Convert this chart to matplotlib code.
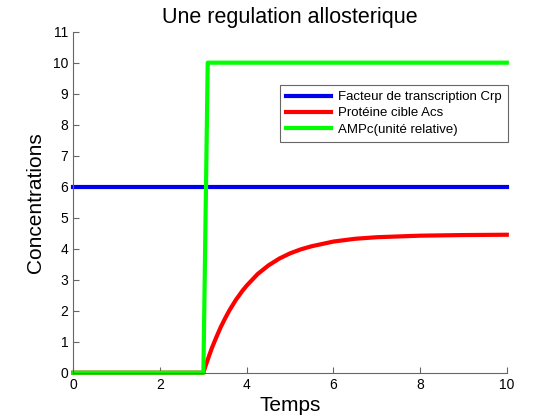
import matplotlib
matplotlib.use("Agg")
import matplotlib.pyplot as plt

plt.rcParams['font.family'] = ['Liberation Sans', 'DejaVu Sans']

# temps et concentrations
t_crp = [0, 10]
crp = [6, 6]

t_acs = [0, 3.0, 3.05, 3.1, 3.15, 3.2, 3.3, 3.4, 3.5, 3.6, 3.75, 3.9, 4.0, 4.25,
         4.5, 4.75, 5.0, 5.25, 5.5, 6.0, 6.5, 7.0, 8.0, 9.0, 10.0]
acs = [0, 0, 0.22, 0.42, 0.62, 0.81, 1.15, 1.47, 1.75, 2.01, 2.35, 2.64, 2.81, 3.18,
       3.46, 3.68, 3.85, 3.98, 4.08, 4.23, 4.32, 4.37, 4.42, 4.44, 4.45]

t_ampc = [0, 3.0, 3.1, 10]
ampc = [0, 0, 10, 10]

labels = ["Facteur de transcription Crp", "Protéine cible Acs", "AMPc(unité relative)"]

fig = plt.figure(figsize=(5.6, 4.2), dpi=100)
ax = fig.add_axes([0.131, 0.1126, 0.774, 0.812])

ax.plot(t_crp, crp, color="#0000ee", lw=3, clip_on=False)
ax.plot(t_acs, acs, color="#ff0000", lw=3, clip_on=False)
ax.plot(t_ampc, ampc, color="#00ff00", lw=3, clip_on=False)

ax.set_xlim(0, 10)
ax.set_ylim(0, 11)
ax.set_xticks(range(0, 11, 2))
ax.set_yticks(range(0, 12))

for s in ["top", "right"]:
    ax.spines[s].set_visible(False)
for s in ["left", "bottom"]:
    ax.spines[s].set_color("#666666")
ax.tick_params(direction="in", length=4, color="#666666", labelsize=10, labelcolor="black")

ax.set_title("Une regulation allosterique", fontsize=15.5, pad=6)
ax.set_xlabel("Temps", fontsize=15, labelpad=3)
ax.set_ylabel("Concentrations", fontsize=15, labelpad=6)

leg = ax.legend(labels, loc="upper right", bbox_to_anchor=(508 / 560, 1 - 85 / 420),
                bbox_transform=fig.transFigure, fontsize=9.5, fancybox=False,
                edgecolor="#666666", framealpha=1, handlelength=3.4,
                borderpad=0.45, labelspacing=0.3, handletextpad=0.6, borderaxespad=0)
leg.get_frame().set_linewidth(0.8)

fig.savefig("out.png", dpi=100)
